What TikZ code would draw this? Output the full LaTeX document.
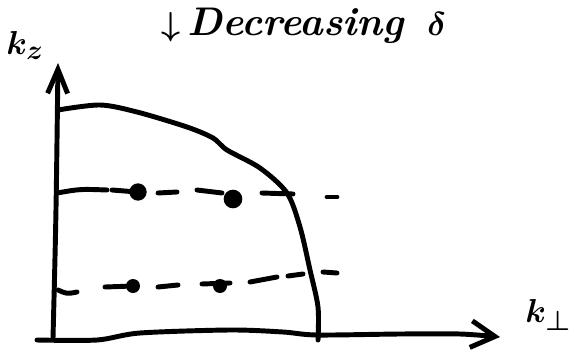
\documentclass[tikz,border=0pt]{standalone}
\usepackage{tikz}
\usetikzlibrary{arrows.meta}
\tikzstyle{pen} = [line width=3.7pt, line cap=round, line join=round]
\tikzstyle{axis} = [pen, -{Straight Barb[length=18pt, width=20pt]}]
\tikzstyle{dot} = [circle, fill, inner sep=0pt, minimum size=13pt]

\begin{document}
\begin{tikzpicture}[x=0.75pt, y=-0.75pt, every node/.style={font=\bfseries\itshape\boldmath}]
\useasboundingbox (0,0) rectangle (574,353);

% Axes
\coordinate (kzbase) at (53,338);
\coordinate (kztip) at (58,63);
\draw [axis, -{Straight Barb[length=18pt, width=15pt]}] (kzbase) .. controls (56,220) .. (kztip);
\draw [axis] plot [smooth] coordinates {(37,340) (97,340) (140,333) (230,330) (283,332) (317,335) (400,334) (460,334) (500,337)};

% Labels
\node (kz) at (25,45) {\fontsize{32}{36}\selectfont $k_z$};
\node (kperp) at (548,315) {\fontsize{30}{34}\selectfont $k_\perp$};
\node (title) at (304,26) {\fontsize{30}{36}\selectfont $\downarrow$\,Decreasing\ \,$\delta$};

% Boundary
\draw [pen] plot [smooth] coordinates {(58,110) (100,105) (137,112) (187,127) (213,138) (227,150) (260,168) (287,193) (300,227) (310,270) (318,307) (318,340)};

% Dots
\node (dotA) [dot] at (138,192) {};
\node (dotB) [dot, minimum size=14pt] at (233,199) {};
\node (dotC) [dot, minimum size=10.5pt] at (133,286) {};
\node (dotD) [dot, minimum size=10.5pt] at (220,286) {};

% Upper dashed line
\draw [pen] (57,193) .. controls (80,189) .. (107,190);
\foreach \xa/\ya/\xb/\yb in {112/190/137/192, 158/193/177/192, 197/190/222/193, 262/193/293/194, 327/197/337/197}
  \draw [pen] (\xa,\ya) -- (\xb,\yb);

% Lower dashed line
\draw [pen] (58,290) .. controls (67,294) .. (77,292);
\foreach \xa/\ya/\xb/\yb in {105/287/133/286, 158/287/178/285, 202/284/230/283, 250/282/277/277, 288/276/303/274, 323/272/337/273}
  \draw [pen] (\xa,\ya) -- (\xb,\yb);

\end{tikzpicture}
\end{document}
